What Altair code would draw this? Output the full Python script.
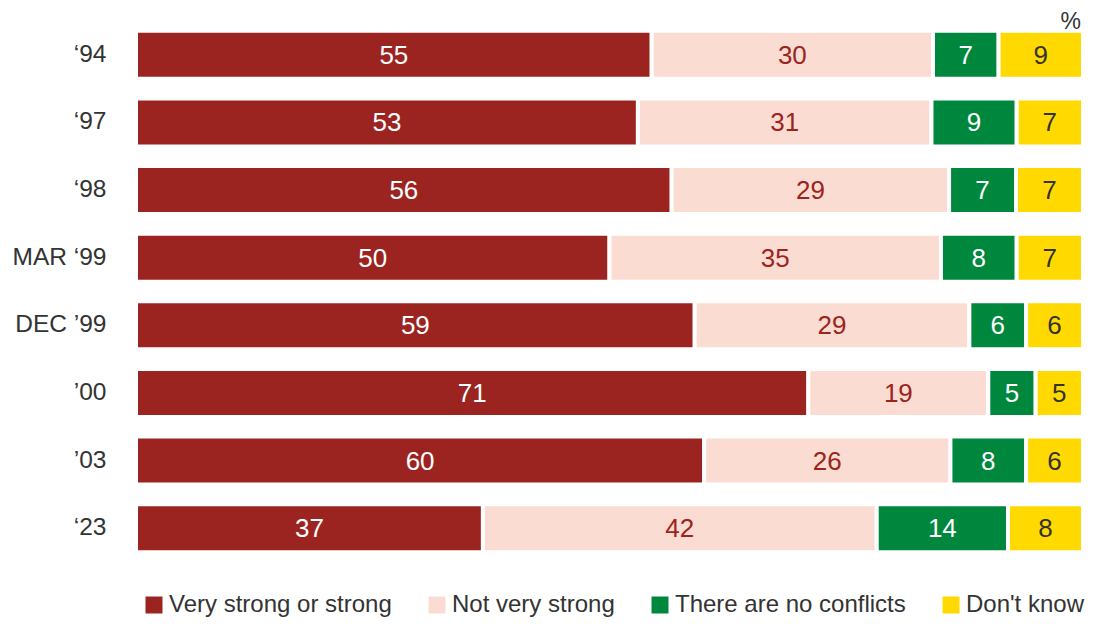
import altair as alt
import pandas as pd

years = ["‘94", "‘97", "‘98", "MAR ‘99", "DEC ’99", "’00", "’03", "‘23"]
categories = ["Very strong or strong", "Not very strong", "There are no conflicts", "Don't know"]
strong = [55, 53, 56, 50, 59, 71, 60, 37]
not_very = [30, 31, 29, 35, 29, 19, 26, 42]
no_conflicts = [7, 9, 7, 8, 6, 5, 8, 14]
dont_know = [9, 7, 7, 7, 6, 5, 6, 8]
unit_label = "%"

fill_colors = ["#9C2420", "#FADCD2", "#00873E", "#FFD900"]
text_colors = ["#FFFFFF", "#9C2420", "#FFFFFF", "#333333"]

series = [strong, not_very, no_conflicts, dont_know]
rows = []
for ci, (cat, vals) in enumerate(zip(categories, series)):
    for yr, v in zip(years, vals):
        rows.append({"year": yr, "category": cat, "value": v, "order": ci})
df = pd.DataFrame(rows)

FONT = "Liberation Sans"

y_scale = alt.Scale(paddingInner=0.29, paddingOuter=0.145)
y_enc = alt.Y(
    "year:N",
    sort=years,
    title=None,
    scale=y_scale,
    axis=alt.Axis(ticks=False, domain=False, labelFontSize=24.5, labelFont=FONT,
                  labelColor="#333333", labelPadding=30),
)
x_scale = alt.Scale(domain=[0, 1], nice=False, zero=True)

base = alt.Chart(df)

bars = base.mark_bar(stroke="white", strokeWidth=4).encode(
    y=y_enc,
    x=alt.X("value:Q", stack="normalize", axis=None, scale=x_scale),
    color=alt.Color(
        "category:N",
        scale=alt.Scale(domain=categories, range=fill_colors),
        legend=alt.Legend(
            title=None, orient="none", legendX=6, legendY=572,
            direction="horizontal", columns=4, columnPadding=33,
            symbolType="square", symbolSize=289, symbolStrokeWidth=0,
            labelFontSize=24, labelFont=FONT, labelColor="#333333",
            labelOffset=3, padding=0, labelLimit=400,
        ),
    ),
    order=alt.Order("order:Q"),
)

labels = (
    base.transform_joinaggregate(total="sum(value)", groupby=["year"])
    .transform_window(cum="sum(value)", groupby=["year"],
                      sort=[alt.SortField("order")], frame=[None, 0])
    .transform_calculate(mid="(datum.cum - datum.value / 2) / datum.total")
    .mark_text(fontSize=26, font=FONT, baseline="middle", align="center", dy=1)
    .encode(
        y=y_enc,
        x=alt.X("mid:Q", axis=None, scale=x_scale),
        text=alt.Text("value:Q"),
        color=alt.Color("category:N",
                        scale=alt.Scale(domain=categories, range=text_colors),
                        legend=None),
    )
)

unit = (
    alt.Chart(pd.DataFrame({"year": [years[0]], "pos": [1.0], "txt": [unit_label]}))
    .mark_text(fontSize=23, font=FONT, color="#333333", align="right",
               baseline="alphabetic", dx=-2, dy=-26)
    .encode(
        y=alt.Y("year:N", sort=years, scale=y_scale, title=None),
        x=alt.X("pos:Q", scale=x_scale, axis=None),
        text="txt:N",
    )
)

chart = (
    alt.layer(bars, labels, unit)
    .resolve_scale(color="independent")
    .properties(
        width=947,
        height=541,
        autosize=alt.AutoSizeParams(type="none"),
        padding={"left": 128, "top": 13, "right": 2, "bottom": 55},
    )
    .configure_view(stroke=None)
)

chart.save("out.html", embed_options={"renderer": "svg", "actions": False})
